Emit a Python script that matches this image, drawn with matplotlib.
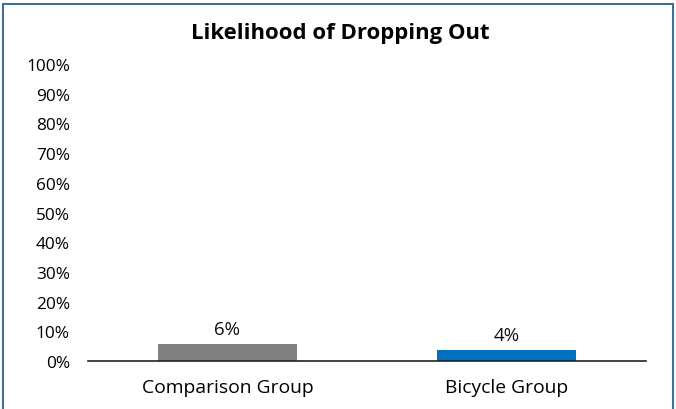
import matplotlib
matplotlib.use('Agg')
import matplotlib.pyplot as plt
from matplotlib.patches import Rectangle
from matplotlib.ticker import PercentFormatter

plt.rcParams['font.family'] = ['Open Sans', 'DejaVu Sans']

# data
groups = ['Comparison Group', 'Bicycle Group']
dropout = [0.057, 0.037]
bar_colors = ['#808080', '#0070C0']

fig = plt.figure(figsize=(6.76, 4.10), dpi=100)
ax = fig.add_axes([0.130, 0.117, 0.826, 0.7245])

x = range(len(groups))
bars = ax.bar(x, dropout, width=0.5, color=bar_colors)
for b, v in zip(bars, dropout):
    ax.text(b.get_x() + b.get_width() / 2, v + 0.022, f'{round(v * 100):.0f}%',
            ha='center', va='bottom', fontsize=13.5, color='#111111')

ax.set_xlim(-0.5, 1.5)
ax.set_ylim(0, 1)
ax.set_yticks([i / 10 for i in range(11)])
ax.yaxis.set_major_formatter(PercentFormatter(1.0, decimals=0))
ax.set_xticks(list(x))
ax.set_xticklabels(groups, fontsize=13.9)
ax.tick_params(axis='y', length=0, pad=13, labelsize=12.4)
ax.tick_params(axis='x', length=0, pad=12)

for s in ['top', 'right', 'left']:
    ax.spines[s].set_visible(False)
ax.spines['bottom'].set_color('#222222')
ax.spines['bottom'].set_linewidth(1.2)

fig.text(0.503, 0.918, 'Likelihood of Dropping Out', ha='center', va='center',
         fontsize=15.9, fontweight='bold')

# outer frame (bottom edge falls outside the image)
fig.patches.append(Rectangle((3 / 676, -0.05), 670 / 676, 1.05 - 5 / 410,
                             transform=fig.transFigure, fill=False,
                             edgecolor='#3F6F95', linewidth=1.5))

fig.savefig('out.png', dpi=100)
